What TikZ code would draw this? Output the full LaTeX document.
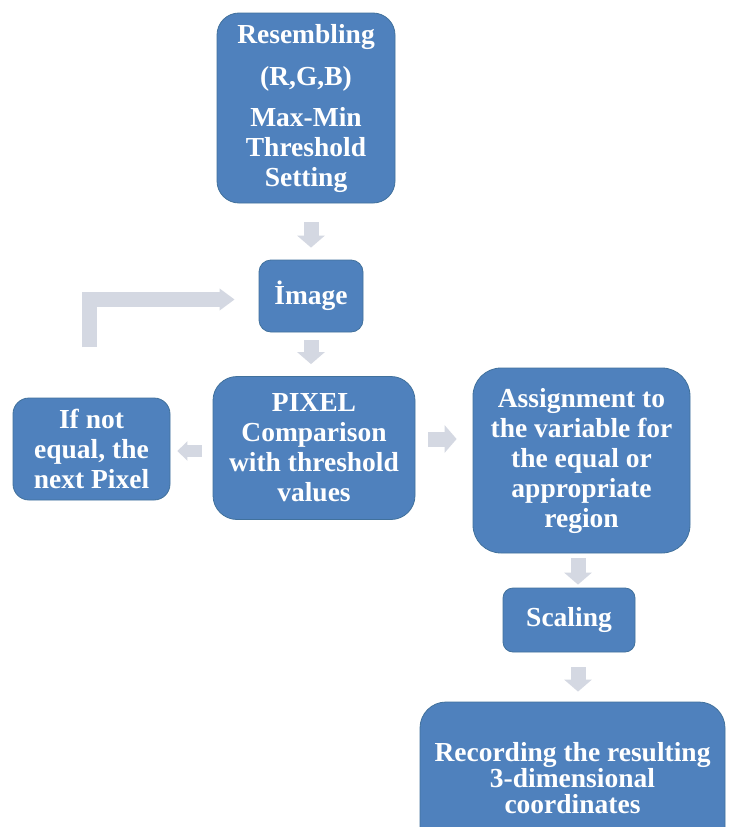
\documentclass[tikz,border=0pt]{standalone}
\usepackage{fontspec}
\setmainfont{Liberation Serif}
\usetikzlibrary{arrows.meta}
\definecolor{boxblue}{HTML}{4F81BD}
\definecolor{boxedge}{HTML}{41719C}
\definecolor{arrowgray}{HTML}{D4D8E2}
\begin{document}
\begin{tikzpicture}[x=1pt,y=-1pt,
  box/.style={draw=boxedge, line width=0.8pt, fill=boxblue, text=white,
    font=\bfseries\fontsize{27.5}{30}\selectfont, align=center, inner sep=0pt},
  blk/.style={draw=arrowgray, line width=15pt, line cap=butt,
    -{Triangle[length=12pt,width=27pt]}},
  blksmall/.style={draw=arrowgray, line width=12pt, line cap=butt,
    -{Triangle[length=10pt,width=19pt]}},
  blkfb/.style={draw=arrowgray, line width=15pt, line cap=butt, line join=miter,
    -{Triangle[length=15pt,width=21pt]}},
]
\useasboundingbox (0,0) rectangle (729,827);
\clip (0,0) rectangle (729,827);
\fill[white] (0,0) rectangle (729,827);

\node[box, minimum width=178pt, minimum height=190pt, rounded corners=22pt] (b1) at (306,108)
  {Resembling\\[12pt](R,G,B)\\[11pt]Max-Min\\Threshold\\Setting};
\node[box, minimum width=104pt, minimum height=72pt, rounded corners=12pt] (img) at (311,296)
  {İmage};
\node[box, minimum width=202pt, minimum height=143pt, rounded corners=24pt] (pix) at (314,448)
  {PIXEL\\Comparison\\with threshold\\values};
\node[box, minimum width=157pt, minimum height=102pt, rounded corners=16pt] (ifn) at (91.5,449)
  {If not\\equal, the\\next Pixel};
\node[box, minimum width=217pt, minimum height=185pt, rounded corners=28pt] (asg) at (581.5,460.5)
  {Assignment to\\the variable for\\the equal or\\appropriate\\region};
\node[box, minimum width=132pt, minimum height=64pt, rounded corners=10pt] (scl) at (569,620)
  {Scaling};
\node[box, minimum width=305pt, minimum height=152pt, rounded corners=26pt,
  font=\bfseries\fontsize{27.5}{26}\selectfont] (rec) at (572.5,778)
  {Recording the resulting\\3-dimensional\\coordinates};

\coordinate (fb) at (89.5,347);

\draw[blk, shorten <=19pt, shorten >=12pt] (img.north |- b1.south) -- (img.north);
\draw[blk, shorten <=8pt, shorten >=12pt] (img.south) -- (img.south |- pix.north);
\draw[blksmall, shorten <=11pt, shorten >=7pt] ([yshift=-3pt]pix.west) -- ([yshift=-3pt]pix.west -| ifn.east);
\draw[blk, shorten <=13pt, shorten >=16pt] ([yshift=9pt]pix.east) -- ([yshift=9pt]pix.east -| asg.west);
\draw[blk, shorten <=5pt, shorten >=3pt] ([xshift=9pt]scl.north |- asg.south) -- ([xshift=9pt]scl.north);
\draw[blk, shorten <=15pt, shorten >=10pt] ([xshift=9pt]scl.south) -- ([xshift=9pt]scl.south |- rec.north);
\draw[blkfb, shorten >=24pt] (fb) |- ([yshift=-3.5pt]img.west);
\end{tikzpicture}
\end{document}
